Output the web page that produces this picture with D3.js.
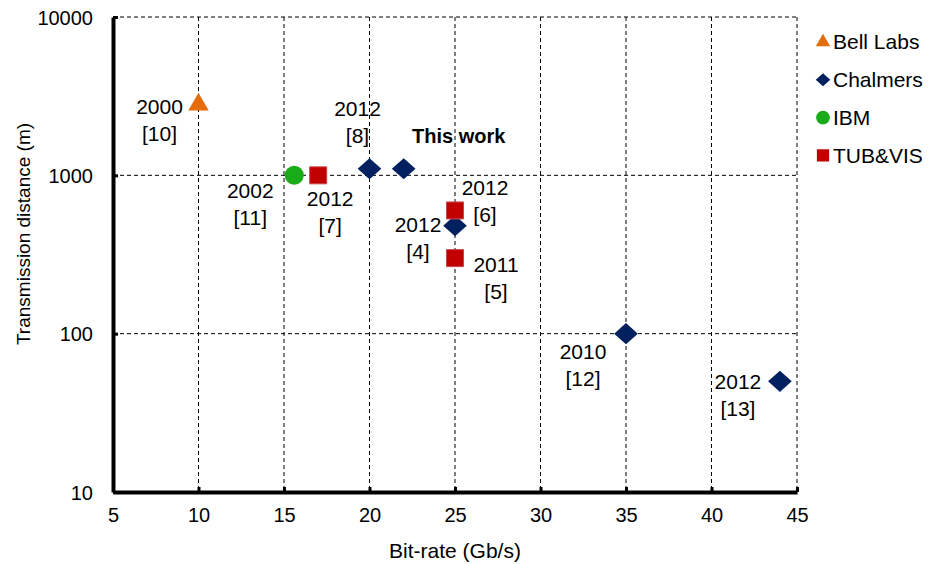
<!DOCTYPE html>
<html>
<head>
<meta charset="utf-8">
<script src="https://cdn.jsdelivr.net/npm/d3@7"></script>
<style>
body { margin: 0; background: #fff; }
text { font-family: "Liberation Sans", Arial, sans-serif; }
</style>
</head>
<body>
<svg id="chart"></svg>
<script>
// data
var groups = ["Bell Labs", "Chalmers", "IBM", "TUB&VIS"];
var colors = ["#e46c0a", "#002060", "#1aab1a", "#c00000"];

var bellRate = [10], bellDist = [2800];
var chalmersRate = [20, 22, 25, 35, 44], chalmersDist = [1100, 1100, 480, 100, 50];
var ibmRate = [15.6], ibmDist = [1000];
var tubRate = [17, 25, 25], tubDist = [1000, 600, 300];

var xTicks = [5, 10, 15, 20, 25, 30, 35, 40, 45];
var yTicks = [10, 100, 1000, 10000];

// label: group index, point index, lines
var labelText = [
	[0, 0, ["2000", "[10]"]],
	[1, 0, ["2012", "[8]"]],
	[2, 0, ["2002", "[11]"]],
	[3, 0, ["2012", "[7]"]],
	[3, 1, ["2012", "[6]"]],
	[1, 2, ["2012", "[4]"]],
	[3, 2, ["2011", "[5]"]],
	[1, 3, ["2010", "[12]"]],
	[1, 4, ["2012", "[13]"]]
];
// pixel offsets of the labels from their points
var labelOffset = [[-39, 2], [-12, -60], [-44, 15], [12, 23], [30, -23], [-37, -1], [41, 7], [-43, 18], [-42, 0]];

var series = [
	d3.zip(bellRate, bellDist),
	d3.zip(chalmersRate, chalmersDist),
	d3.zip(ibmRate, ibmDist),
	d3.zip(tubRate, tubDist)
];

// wide diamond like the excel marker
var wideDiamond = {
	draw: function (ctx, size) {
		var w = Math.sqrt(size * 2 * 1.12) / 2, h = w / 1.12;
		ctx.moveTo(-w, 0);
		ctx.lineTo(0, -h);
		ctx.lineTo(w, 0);
		ctx.lineTo(0, h);
		ctx.closePath();
	}
};
var shapes = [d3.symbolTriangle, wideDiamond, d3.symbolCircle, d3.symbolSquare];

var width = 928, height = 564;
var margin = { left: 113, right: 131, top: 17, bottom: 72 };

var svg = d3.select("#chart").attr("width", width).attr("height", height);

var x = d3.scaleLinear().domain([5, 45]).range([margin.left, width - margin.right]);
var y = d3.scaleLog().domain([10, 10000]).range([height - margin.bottom, margin.top]);

// grid
svg.append("g")
	.selectAll("line")
	.data(xTicks.slice(1))
	.enter()
	.append("line")
	.attr("x1", d => x(d)).attr("x2", d => x(d))
	.attr("y1", y(10000)).attr("y2", y(10))
	.attr("stroke", "#000")
	.attr("stroke-width", 1)
	.attr("stroke-dasharray", "4,3");

svg.append("g")
	.selectAll("line")
	.data(yTicks.slice(1))
	.enter()
	.append("line")
	.attr("x1", x(5)).attr("x2", x(45))
	.attr("y1", d => y(d)).attr("y2", d => y(d))
	.attr("stroke", "#000")
	.attr("stroke-width", 1)
	.attr("stroke-dasharray", "4,3");

// axes
var xAxis = svg.append("g")
	.attr("transform", "translate(0," + y(10) + ")")
	.call(d3.axisBottom(x).tickValues(xTicks).tickSizeInner(-5).tickSizeOuter(0).tickPadding(21));
var yAxis = svg.append("g")
	.attr("transform", "translate(" + x(5) + ",0)")
	.call(d3.axisLeft(y).tickValues(yTicks).tickFormat(d3.format("d")).tickSizeInner(-5).tickSizeOuter(0).tickPadding(20));

[xAxis, yAxis].forEach(function (a) {
	a.select(".domain").attr("stroke", "#000").attr("stroke-width", 4);
	a.selectAll(".tick line").attr("stroke", "#000").attr("stroke-width", 3);
	a.selectAll(".tick text").attr("font-size", "20px").attr("fill", "#000")
		.style("font-family", "'Liberation Sans', Arial, sans-serif");
});
xAxis.selectAll(".tick text").attr("dy", "0.45em");
yAxis.selectAll(".tick text").attr("dy", "0.35em");

// axis titles
svg.append("text")
	.attr("x", x(25))
	.attr("y", 558)
	.attr("text-anchor", "middle")
	.attr("font-size", "21px")
	.text("Bit-rate (Gb/s)");

svg.append("text")
	.attr("transform", "translate(30,234) rotate(-90)")
	.attr("text-anchor", "middle")
	.attr("font-size", "19px")
	.text("Transmission distance (m)");

// markers
var sizes = [180, 250, 285, 289];
series.forEach(function (s, i) {
	svg.append("g")
		.selectAll("path")
		.data(s)
		.enter()
		.append("path")
		.attr("transform", d => "translate(" + x(d[0]) + "," + y(d[1]) + ")")
		.attr("d", d3.symbol().type(shapes[i]).size(sizes[i]))
		.attr("fill", colors[i])
		.attr("stroke", i == 3 ? "#c8484a" : "none")
		.attr("stroke-width", 1);
});

// labels
labelText.forEach(function (l, i) {
	var p = series[l[0]][l[1]];
	var t = svg.append("text")
		.attr("text-anchor", "middle")
		.attr("font-size", "21px")
		.attr("fill", "#000");
	l[2].forEach(function (line, j) {
		t.append("tspan")
			.attr("x", x(p[0]) + labelOffset[i][0])
			.attr("y", y(p[1]) + labelOffset[i][1] + j * 27)
			.attr("dy", "0.35em")
			.text(line);
	});
});

var tw = series[1][1];
svg.append("text")
	.attr("x", x(tw[0]) + 55)
	.attr("y", y(tw[1]) - 33)
	.attr("dy", "0.35em")
	.attr("text-anchor", "middle")
	.attr("font-size", "20px")
	.attr("font-weight", "bold")
	.text("This work");

// legend
var legend = svg.append("g").attr("transform", "translate(823,42)");
var items = legend.selectAll("g")
	.data(groups)
	.enter()
	.append("g")
	.attr("transform", (d, i) => "translate(0," + i * 37.8 + ")");
items.append("path")
	.attr("d", (d, i) => d3.symbol().type(shapes[i]).size([90, 95, 150, 150][i])())
	.attr("fill", (d, i) => colors[i]);
items.append("text")
	.attr("x", 10)
	.attr("dy", "0.35em")
	.attr("font-size", "21px")
	.text(d => d);
</script>
</body>
</html>
